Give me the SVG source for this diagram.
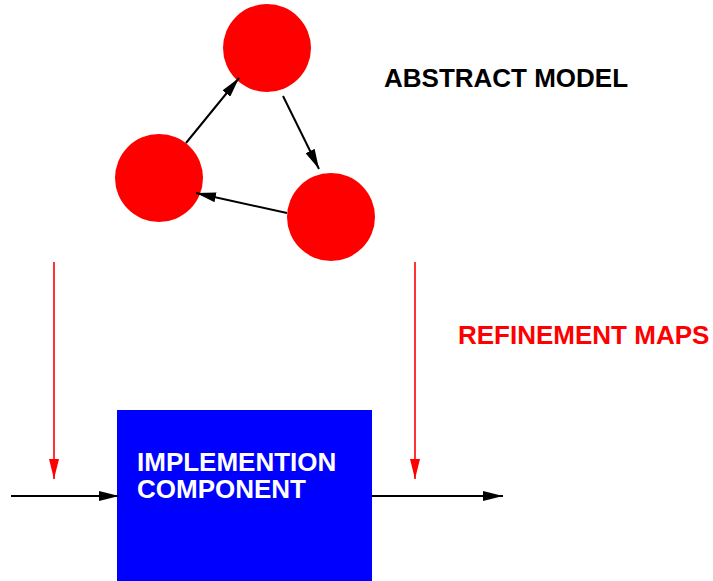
<svg xmlns="http://www.w3.org/2000/svg" width="713" height="581" viewBox="0 0 713 581">
<style>
.node{fill:#ff0000}
.lbl{font-family:"Liberation Sans",Arial,sans-serif;font-weight:bold;font-size:26px}
.blk{stroke:#000;stroke-width:2;fill:none}
.red{stroke:#ff0000;stroke-width:1.6;fill:none}
</style>
<defs>
<marker id="ab" viewBox="0 0 20 10" refX="20" refY="5" markerWidth="20" markerHeight="10" markerUnits="userSpaceOnUse" orient="auto"><path d="M0,0 L20,5 L0,10 Z" fill="#000"/></marker>
<marker id="ar" viewBox="0 0 20 10" refX="20" refY="5" markerWidth="22" markerHeight="10" markerUnits="userSpaceOnUse" orient="auto"><path d="M0,0 L20,5 L0,10 Z" fill="#ff0000"/></marker>
</defs>
<g id="n-top"><circle class="node" cx="267" cy="48" r="44"/></g>
<g id="n-left"><circle class="node" cx="159" cy="178" r="44"/></g>
<g id="n-right"><circle class="node" cx="331" cy="217" r="44"/></g>
<g id="impl"><rect x="117" y="410" width="255" height="175" fill="#0000ff"/>
<text class="lbl" x="137" y="471" fill="#fff">IMPLEMENTION</text>
<text class="lbl" x="137" y="498" fill="#fff">COMPONENT</text></g>
<g id="labels">
<text class="lbl" x="384" y="87" fill="#000">ABSTRACT MODEL</text>
<text class="lbl" x="458" y="344" fill="#ff0000">REFINEMENT MAPS</text>
</g>
<g id="connectors">
<line class="blk" x1="186" y1="143" x2="239" y2="78" marker-end="url(#ab)"/>
<line class="blk" x1="283" y1="96" x2="319" y2="169" marker-end="url(#ab)"/>
<line class="blk" x1="287" y1="213" x2="196" y2="193" marker-end="url(#ab)"/>
<line class="blk" x1="11" y1="496" x2="119" y2="496" marker-end="url(#ab)"/>
<line class="blk" x1="372" y1="496" x2="503" y2="496" marker-end="url(#ab)"/>
<line class="red" x1="54" y1="262" x2="54" y2="479" marker-end="url(#ar)"/>
<line class="red" x1="415" y1="262" x2="415" y2="479" marker-end="url(#ar)"/>
</g>
</svg>
